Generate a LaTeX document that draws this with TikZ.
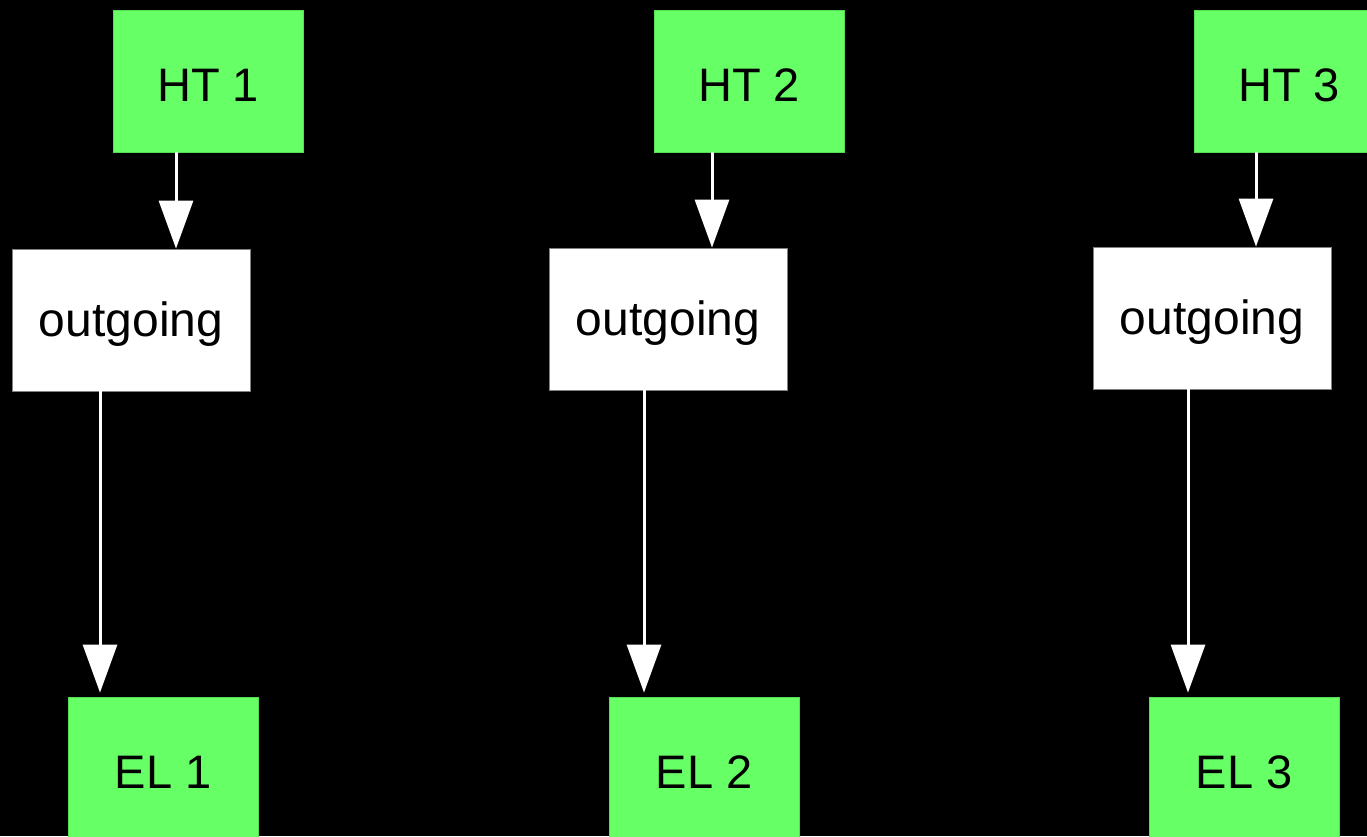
\documentclass[tikz,border=0pt]{standalone}
\usepackage{fontspec}
\setmainfont{Liberation Sans}
\usetikzlibrary{arrows.meta}
\definecolor{boxgreen}{HTML}{66FF66}
\definecolor{greenedge}{HTML}{55DD55}
\begin{document}
\begin{tikzpicture}[x=1pt,y=1pt,
  greenbox/.style={fill=boxgreen,draw=greenedge,line width=0.8pt,minimum width=190pt,minimum height=142pt,inner sep=0pt,font=\fontsize{47}{52}\selectfont,text=black,text height=41pt,text depth=0pt},
  whitebox/.style={fill=white,draw=gray,line width=0.8pt,minimum width=238pt,minimum height=142pt,inner sep=0pt,font=\fontsize{48}{54}\selectfont,text=black,text height=43pt,text depth=10pt},
  arr/.style={draw=white,line width=3pt,-{Triangle[length=48pt,width=34pt,fill=white]}}]
\fill[black] (0,0) rectangle (1367,-836);
\useasboundingbox (0,0) rectangle (1367,-836);
\begin{scope}
\clip (0,0) rectangle (1367,-836);
\node[greenbox] (ht1) at (208,-81) {HT 1};
\node[greenbox] (ht2) at (749,-81) {HT 2};
\node[greenbox] (ht3) at (1289,-81) {HT 3};
\node[whitebox] (out1) at (131,-320) {outgoing};
\node[whitebox] (out2) at (668,-319) {outgoing};
\node[whitebox] (out3) at (1212,-318) {outgoing};
\node[greenbox] (el1) at (163,-768) {EL 1};
\node[greenbox] (el2) at (704,-768) {EL 2};
\node[greenbox] (el3) at (1244,-768) {EL 3};
\draw[arr] ([xshift=-32pt]ht1.south) -- ([xshift=45pt]out1.north);
\draw[arr] ([xshift=-37pt]ht2.south) -- ([xshift=44pt]out2.north);
\draw[arr] ([xshift=-33pt]ht3.south) -- ([xshift=44pt]out3.north);
\draw[arr,shorten >=4pt] ([xshift=-31pt]out1.south) -- ([xshift=-63pt]el1.north);
\draw[arr,shorten >=4pt] ([xshift=-24pt]out2.south) -- ([xshift=-60pt]el2.north);
\draw[arr,shorten >=4pt] ([xshift=-24pt]out3.south) -- ([xshift=-56pt]el3.north);
\end{scope}
\end{tikzpicture}
\end{document}
